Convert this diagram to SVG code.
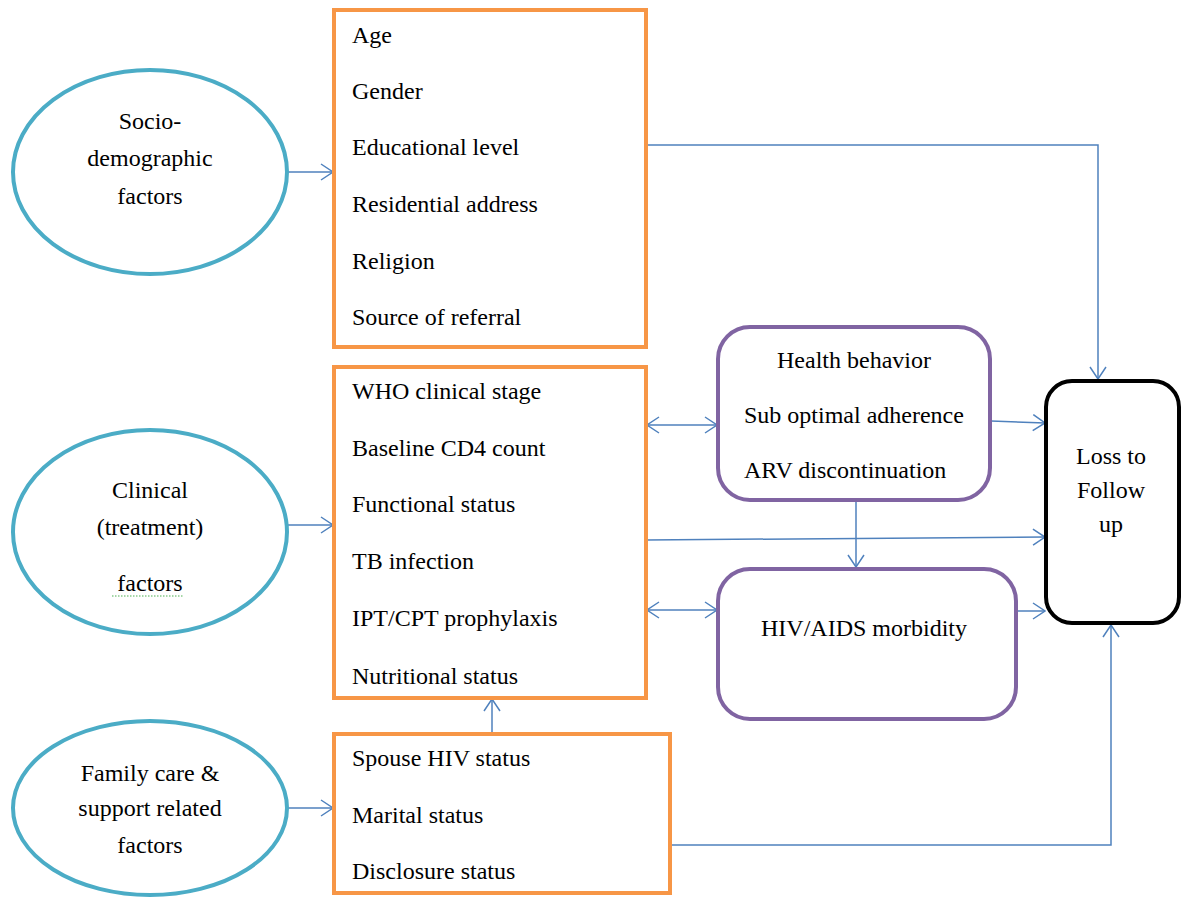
<svg xmlns="http://www.w3.org/2000/svg" width="1184" height="898" viewBox="0 0 1184 898">
<style>
.ell{fill:#fff;stroke:#4BACC6;stroke-width:4}
.org{fill:#fff;stroke:#F79646;stroke-width:4}
.pur{fill:#fff;stroke:#8064A2;stroke-width:4}
.blk{fill:#fff;stroke:#000;stroke-width:4}
.t{font-family:"Liberation Serif","Times New Roman","DejaVu Serif",serif;font-size:24px;fill:#000}
.c{text-anchor:middle}
.con{fill:none;stroke:#4F81BD;stroke-width:1.5}
</style>
<defs>
<marker id="ah" viewBox="0 0 14 18" refX="13" refY="9" markerWidth="14" markerHeight="18" markerUnits="userSpaceOnUse" orient="auto-start-reverse">
<path d="M1,1 L13,9 L1,17" fill="none" stroke="#4F81BD" stroke-width="1.5"/>
</marker>
</defs>
<g id="connectors">
<line class="con" x1="287" y1="172" x2="333" y2="172" marker-end="url(#ah)"/>
<line class="con" x1="287" y1="525" x2="333" y2="525" marker-end="url(#ah)"/>
<line class="con" x1="287" y1="808" x2="333" y2="808" marker-end="url(#ah)"/>
<polyline class="con" points="646,145 1098,145 1098,379" marker-end="url(#ah)"/>
<line class="con" x1="647" y1="425" x2="717" y2="425" marker-start="url(#ah)" marker-end="url(#ah)"/>
<line class="con" x1="991" y1="421" x2="1045" y2="423" marker-end="url(#ah)"/>
<line class="con" x1="856" y1="502" x2="856" y2="567" marker-end="url(#ah)"/>
<line class="con" x1="646" y1="540" x2="1045" y2="537" marker-end="url(#ah)"/>
<line class="con" x1="647" y1="610" x2="717" y2="610" marker-start="url(#ah)" marker-end="url(#ah)"/>
<line class="con" x1="1017" y1="611" x2="1045" y2="611" marker-end="url(#ah)"/>
<line class="con" x1="492" y1="733" x2="492" y2="699" marker-end="url(#ah)"/>
<polyline class="con" points="670,845 1111,845 1111,625" marker-end="url(#ah)"/>
</g>
<g id="socio">
<ellipse class="ell" cx="150" cy="172" rx="137" ry="102"/>
<text class="t c" x="150" y="129">Socio-</text>
<text class="t c" x="150" y="166">demographic</text>
<text class="t c" x="150" y="204">factors</text>
</g>
<g id="clinical">
<ellipse class="ell" cx="150" cy="532" rx="137" ry="102"/>
<text class="t c" x="150" y="498">Clinical</text>
<text class="t c" x="150" y="535">(treatment)</text>
<text class="t c" x="150" y="591">factors</text>
<line x1="112" y1="596" x2="184" y2="596" stroke="#4CAF50" stroke-width="1.2" stroke-dasharray="1.5,1.5"/>
</g>
<g id="family">
<ellipse class="ell" cx="150" cy="808" rx="137" ry="87"/>
<text class="t c" x="150" y="781">Family care &amp;</text>
<text class="t c" x="150" y="816">support related</text>
<text class="t c" x="150" y="853">factors</text>
</g>
<g id="box-socio">
<rect class="org" x="334" y="10" width="312" height="337"/>
<text class="t" x="352" y="43">Age</text>
<text class="t" x="352" y="99">Gender</text>
<text class="t" x="352" y="155">Educational level</text>
<text class="t" x="352" y="212">Residential address</text>
<text class="t" x="352" y="269">Religion</text>
<text class="t" x="352" y="325">Source of referral</text>
</g>
<g id="box-clinical">
<rect class="org" x="334" y="367" width="312" height="331"/>
<text class="t" x="352" y="399">WHO clinical stage</text>
<text class="t" x="352" y="456">Baseline CD4 count</text>
<text class="t" x="352" y="512">Functional status</text>
<text class="t" x="352" y="569">TB infection</text>
<text class="t" x="352" y="626">IPT/CPT prophylaxis</text>
<text class="t" x="352" y="684">Nutritional status</text>
</g>
<g id="box-family">
<rect class="org" x="334" y="734" width="336" height="159"/>
<text class="t" x="352" y="766">Spouse HIV status</text>
<text class="t" x="352" y="823">Marital status</text>
<text class="t" x="352" y="879">Disclosure status</text>
</g>
<g id="health-behavior">
<rect class="pur" x="718" y="327" width="272" height="173" rx="32"/>
<text class="t c" x="854" y="368">Health behavior</text>
<text class="t" x="744" y="423">Sub optimal adherence</text>
<text class="t" x="744" y="478">ARV discontinuation</text>
</g>
<g id="morbidity">
<rect class="pur" x="718" y="569" width="298" height="150" rx="32"/>
<text class="t c" x="864" y="636">HIV/AIDS morbidity</text>
</g>
<g id="ltfu">
<rect class="blk" x="1046" y="381" width="133" height="242" rx="26"/>
<text class="t c" x="1111" y="464">Loss to</text>
<text class="t c" x="1111" y="498">Follow</text>
<text class="t c" x="1111" y="532">up</text>
</g>
</svg>
